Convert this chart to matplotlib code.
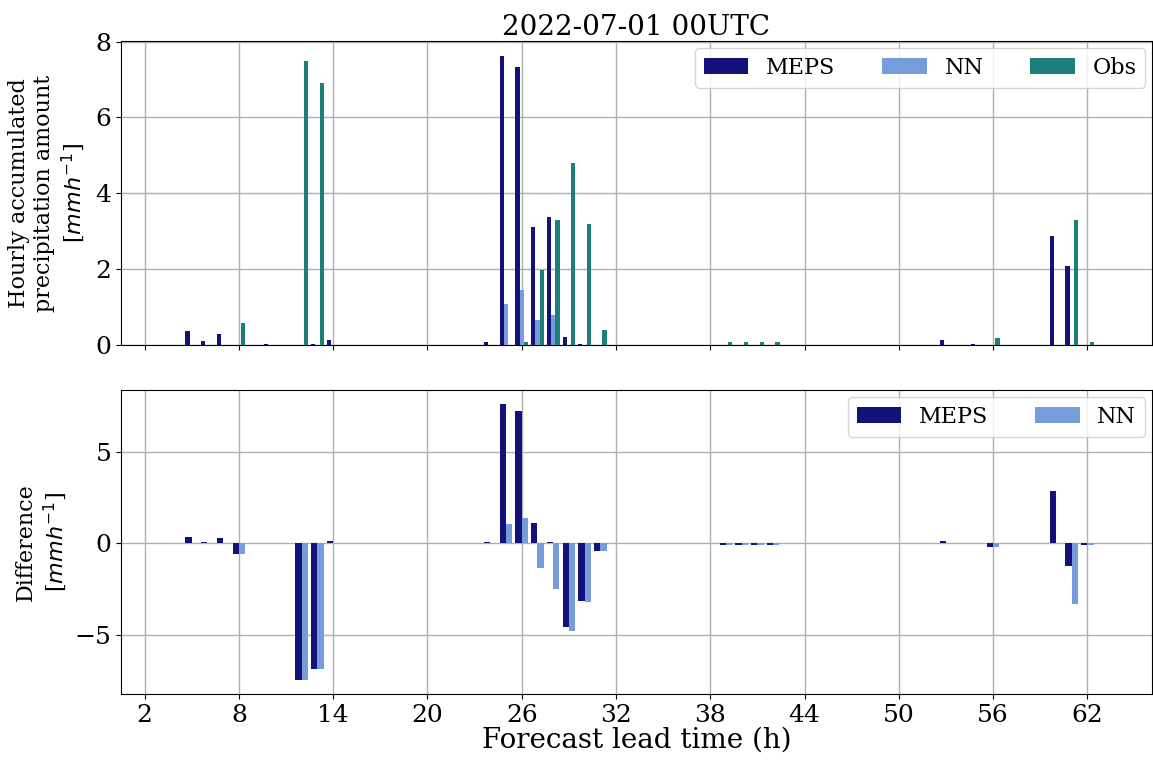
import numpy as np
import matplotlib
matplotlib.use("Agg")
import matplotlib.pyplot as plt

# lead times (h) and hourly precipitation (mm/h)
lead = list(range(4, 64))
meps = [0, 0.37, 0.10, 0.29, 0, 0, 0.03, 0, 0, 0.03, 0.13,  # 4-14
        0, 0, 0, 0, 0, 0, 0, 0, 0,                          # 15-23
        0.08, 7.63, 7.32, 3.10, 3.37, 0.21, 0.03, 0,         # 24-31
        0, 0, 0, 0, 0, 0, 0, 0, 0, 0, 0,                    # 32-42
        0, 0, 0, 0, 0, 0, 0, 0, 0, 0,                       # 43-52
        0.13, 0, 0.03, 0, 0, 0, 0, 2.87, 2.08, 0, 0]        # 53-63
nn = [0, 0, 0, 0, 0, 0, 0, 0, 0, 0, 0,
      0, 0, 0, 0, 0, 0, 0, 0, 0,
      0, 1.08, 1.45, 0.66, 0.79, 0, 0, 0,
      0, 0, 0, 0, 0, 0, 0, 0, 0, 0, 0,
      0, 0, 0, 0, 0, 0, 0, 0, 0, 0,
      0, 0, 0, 0, 0, 0, 0, 0, 0, 0, 0]
obs = [0, 0, 0, 0, 0.58, 0, 0, 0, 7.50, 6.90, 0,
       0, 0, 0, 0, 0, 0, 0, 0, 0,
       0, 0, 0.08, 1.98, 3.29, 4.79, 3.18, 0.40,
       0, 0, 0, 0, 0, 0, 0, 0.08, 0.08, 0.08, 0.08,
       0, 0, 0, 0, 0, 0, 0, 0, 0, 0,
       0, 0, 0, 0.18, 0, 0, 0, 0, 3.30, 0.08, 0]

x = np.array(lead, dtype=float)
meps = np.array(meps)
nn = np.array(nn)
obs = np.array(obs)

c_meps = '#12127a'
c_nn = '#779cdc'
c_obs = '#1b807b'

plt.rcParams['font.family'] = 'DejaVu Serif'
plt.rcParams['mathtext.fontset'] = 'dejavusans'

fig, (ax1, ax2) = plt.subplots(2, 1, figsize=(11.53, 7.62), dpi=100, sharex=True)
fig.subplots_adjust(left=0.105, right=0.999, top=0.946, bottom=0.089, hspace=0.15)

w = 0.27
ax1.bar(x - w, meps, width=w, color=c_meps, label='MEPS', zorder=3)
ax1.bar(x, nn, width=w, color=c_nn, label='NN', zorder=3)
ax1.bar(x + w, obs, width=w, color=c_obs, label='Obs', zorder=3)
ax1.set_ylabel('Hourly accumulated\nprecipitation amount\n[$mmh^{-1}$]', fontsize=16,
               labelpad=6)
ax1.set_title('2022-07-01 00UTC', fontsize=20, pad=4)
ax1.legend(loc='upper right', ncol=3, fontsize=16, handlelength=2.0,
           columnspacing=2.1, borderaxespad=0.3)
ax1.grid(True, color='#b0b0b0', linewidth=1)
ax1.set_axisbelow(True)

w2 = 0.4
ax2.bar(x - w2 / 2, meps - obs, width=w2, color=c_meps, label='MEPS', zorder=3)
ax2.bar(x + w2 / 2, nn - obs, width=w2, color=c_nn, label='NN', zorder=3)
ax2.set_ylabel('Difference\n[$mmh^{-1}$]', fontsize=16)
ax2.set_xlabel('Forecast lead time (h)', fontsize=20, labelpad=0)
ax2.legend(loc='upper right', ncol=2, fontsize=16, handlelength=2.0,
           columnspacing=2.1, borderaxespad=0.3)
ax2.grid(True, color='#b0b0b0', linewidth=1)
ax2.set_axisbelow(True)

ax2.set_xticks(range(2, 63, 6))
ax2.set_xlim(0.5, 66.1)
for ax in (ax1, ax2):
    ax.tick_params(labelsize=18)

plt.savefig('out.png', dpi=100)
